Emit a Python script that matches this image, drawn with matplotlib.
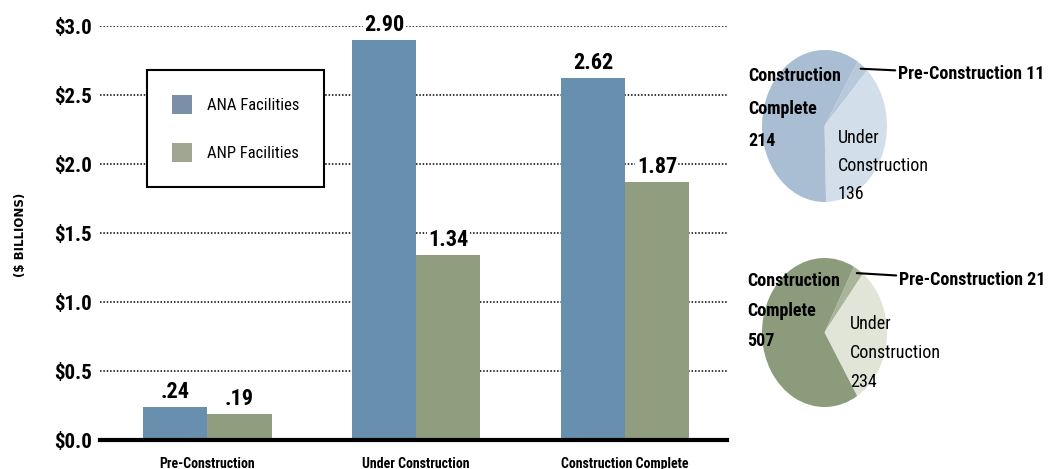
import numpy as np
import matplotlib
matplotlib.use('Agg')
import matplotlib.pyplot as plt
from matplotlib.patches import Patch
from matplotlib import font_manager as fm

# data
groups = ['Pre-Construction', 'Under Construction', 'Construction Complete']
ana_vals = [0.24, 2.90, 2.62]
anp_vals = [0.19, 1.34, 1.87]
ana_text = ['.24', '2.90', '2.62']
anp_text = ['.19', '1.34', '1.87']
yticks = [0.0, 0.5, 1.0, 1.5, 2.0, 2.5, 3.0]
ytick_labels = ['$0.0', '$0.5', '$1.0', '$1.5', '$2.0', '$2.5', '$3.0']

pie_labels = ['Pre-Construction', 'Under Construction', 'Construction Complete']
ana_counts = [11, 136, 214]
anp_counts = [21, 234, 507]

ana_color = '#6890ae'
anp_color = '#909d7f'
ana_pie_colors = ['#b9c9dc', '#d3deeb', '#a9bdd3']
anp_pie_colors = ['#a9b59a', '#e0e5d8', '#8b9b7b']

# pick a narrow font if there is one
avail = {f.name for f in fm.fontManager.ttflist}
narrow = 'DejaVu Sans'
for cand in ['Roboto Condensed', 'Liberation Sans Narrow', 'Open Sans Condensed', 'DejaVu Sans Condensed']:
    if cand in avail:
        narrow = cand
        break
font = dict(family=narrow, stretch='condensed')

W, H = 1055, 469
def fx(px):
    return px / W
def fy(py):
    return 1 - py / H

fig = plt.figure(figsize=(W / 100, H / 100), dpi=100)
ax = fig.add_axes([fx(100), fy(440), (727 - 100) / W, (440 - 26) / H])

x = np.arange(len(groups))
w = 0.307
b1 = ax.bar(x - w / 2, ana_vals, w, color=ana_color, zorder=2)
b2 = ax.bar(x + w / 2, anp_vals, w, color=anp_color, zorder=2)

for bars, labels in [(b1, ana_text), (b2, anp_text)]:
    for r, t in zip(bars, labels):
        ax.annotate(t, (r.get_x() + r.get_width() / 2, r.get_height()),
                    xytext=(0, 3), textcoords='offset points', ha='center', va='bottom',
                    fontsize=16, fontweight='bold', zorder=3, annotation_clip=False,
                    bbox=dict(facecolor='white', edgecolor='none', pad=1), **font)

ax.set_xlim(-0.515, 2.489)
ax.set_ylim(0, 3.0)
ax.set_yticks(yticks)
ax.set_yticklabels(ytick_labels, fontsize=15, fontweight='bold', **font)
ax.set_xticks(x)
ax.set_xticklabels(groups, fontsize=10, fontweight='bold', **font)
ax.tick_params(axis='y', length=0, pad=6)
ax.tick_params(axis='x', length=0, pad=12)
ax.set_axisbelow(True)
ax.yaxis.grid(True, linestyle=(0, (1, 1.2)), color='black', lw=1.1)
for s in ['top', 'right', 'left']:
    ax.spines[s].set_visible(False)
ax.spines['bottom'].set_linewidth(3)
ax.spines['bottom'].set_zorder(4)

fig.text(fx(21), fy(235), '($ BILLIONS)', rotation=90, ha='center', va='center',
         fontsize=8.5, fontweight='bold', family='DejaVu Sans')

handles = [Patch(facecolor='#7c8fa8'), Patch(facecolor='#a0a692')]
leg = ax.legend(handles, ['ANA Facilities', 'ANP Facilities'], loc='upper left',
                bbox_to_anchor=(fx(147), fy(70)), bbox_transform=fig.transFigure,
                borderaxespad=0, fancybox=False, framealpha=1, edgecolor='black',
                handlelength=1.2, handleheight=1.4, handletextpad=0.9,
                labelspacing=1.7, borderpad=1.5, prop=dict(size=12, **font))
leg.get_frame().set_linewidth(1.5)


def draw_pie(counts, colors, box, start):
    left, top, right, bottom = box
    pax = fig.add_axes([fx(left), fy(bottom), (right - left) / W, (bottom - top) / H])
    wedges, _ = pax.pie(counts, colors=colors, startangle=start, counterclock=False)
    pax.set_aspect('auto')
    pax.set_xlim(-1, 1)
    pax.set_ylim(-1, 1)
    return pax, wedges


def pre_label(pax, wedge, text, px, py):
    mid = np.deg2rad((wedge.theta1 + wedge.theta2) / 2)
    pax.annotate(text, (0.95 * np.cos(mid), 0.95 * np.sin(mid)), xycoords='data',
                 xytext=(fx(px), fy(py)), textcoords='figure fraction',
                 ha='left', va='center', fontsize=13, fontweight='bold',
                 arrowprops=dict(arrowstyle='-', color='black', lw=1.5,
                                 shrinkA=0, shrinkB=0), **font)


pax1, w1 = draw_pie(ana_counts, ana_pie_colors, (762, 50, 887, 202), 58)
pre_label(pax1, w1[0], f'Pre-Construction {ana_counts[0]}', 898, 74)
fig.text(fx(748), fy(67), f'Construction\nComplete\n{ana_counts[2]}', ha='left', va='top',
         fontsize=13, fontweight='bold', linespacing=2.05, **font)
fig.text(fx(838), fy(129), f'Under\nConstruction\n{ana_counts[1]}', ha='left', va='top',
         fontsize=13, linespacing=1.72, **font)

pax2, w2 = draw_pie(anp_counts, anp_pie_colors, (762, 258, 887, 407), 62)
pre_label(pax2, w2[0], f'Pre-Construction {anp_counts[0]}', 899, 280)
fig.text(fx(747), fy(272), f'Construction\nComplete\n{anp_counts[2]}', ha='left', va='top',
         fontsize=13, fontweight='bold', linespacing=1.85, **font)
fig.text(fx(850), fy(315), f'Under\nConstruction\n{anp_counts[1]}', ha='left', va='top',
         fontsize=13, linespacing=1.8, **font)

fig.savefig('out.png', dpi=100)
